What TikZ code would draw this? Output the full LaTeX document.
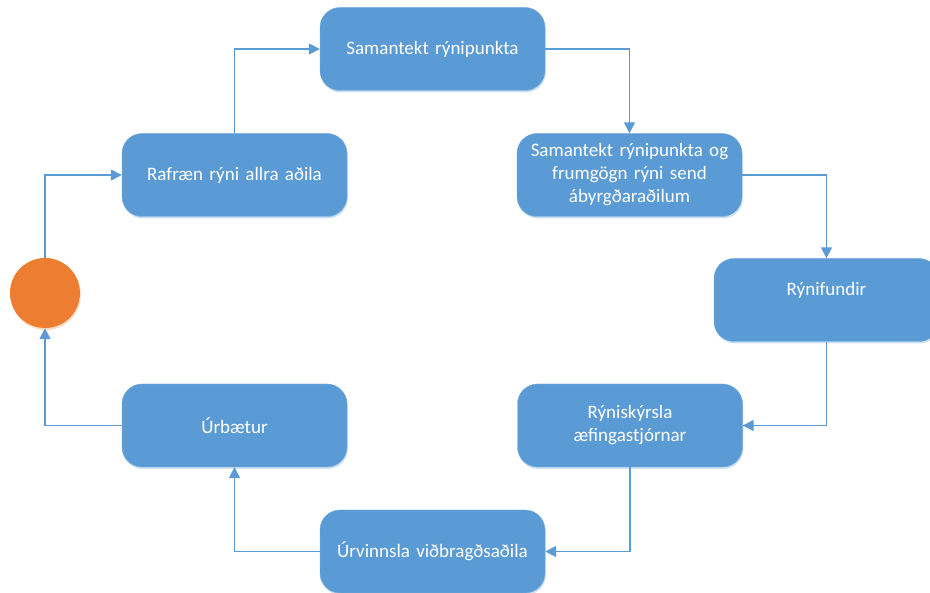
\documentclass[tikz,border=0pt]{standalone}
\usepackage{fontspec}
\setmainfont{Carlito}
\usetikzlibrary{arrows.meta,shadows}
\definecolor{boxblue}{HTML}{5B9BD5}
\definecolor{dotorange}{HTML}{ED7D31}
\tikzset{
  box/.style={rectangle,rounded corners=20pt,fill=boxblue,draw=boxblue!85!white,
    minimum width=225pt,minimum height=83pt,text width=215pt,align=center,
    text=white,font=\fontsize{19}{23}\selectfont,
    drop shadow={shadow xshift=0.8pt,shadow yshift=-2pt,fill=boxblue!30,opacity=1}},
  flow/.style={draw=boxblue,line width=1.6pt,->},
}
\begin{document}
\begin{tikzpicture}[x=1pt,y=-1pt,>={Triangle[length=11pt,width=11pt]}]
  \useasboundingbox (0,0) rectangle (930,593);
  % steps of the review cycle
  \node[box] (saman) at (432.5,49) {Samantekt rýnipunkta};
  \node[box] (raf) at (234.5,175) {Rafræn rýni allra aðila};
  \node[box] (sendt) at (629.5,175) {Samantekt rýnipunkta og\\frumgögn rýni send\\ábyrgðaraðilum};
  \node[box] (fundir) at (826.5,300) {Rýnifundir\\\mbox{}};
  \node[box] (skyrsla) at (630,425.5) {Rýniskýrsla\\æfingastjórnar};
  \node[box] (urbaetur) at (234.5,425.5) {Úrbætur};
  \node[box] (urvinnsla) at (432.5,551.5) {Úrvinnsla viðbragðsaðila};
  \node[circle,fill=dotorange,minimum size=70pt,inner sep=0pt,
    drop shadow={shadow xshift=0.8pt,shadow yshift=-2pt,fill=dotorange!30,opacity=1}] (start) at (45,293) {};
  % connectors
  \draw[flow] (start.north) |- (raf.west);
  \draw[flow] (raf.north) |- (saman.west);
  \draw[flow] (saman.east) -| (sendt.north);
  \draw[flow] (sendt.east) -| (fundir.north);
  \draw[flow] (fundir.south) |- (skyrsla.east);
  \draw[flow] (skyrsla.south) |- (urvinnsla.east);
  \draw[flow] (urvinnsla.west) -| (urbaetur.south);
  \draw[flow] (urbaetur.west) -| (start.south);
\end{tikzpicture}
\end{document}
